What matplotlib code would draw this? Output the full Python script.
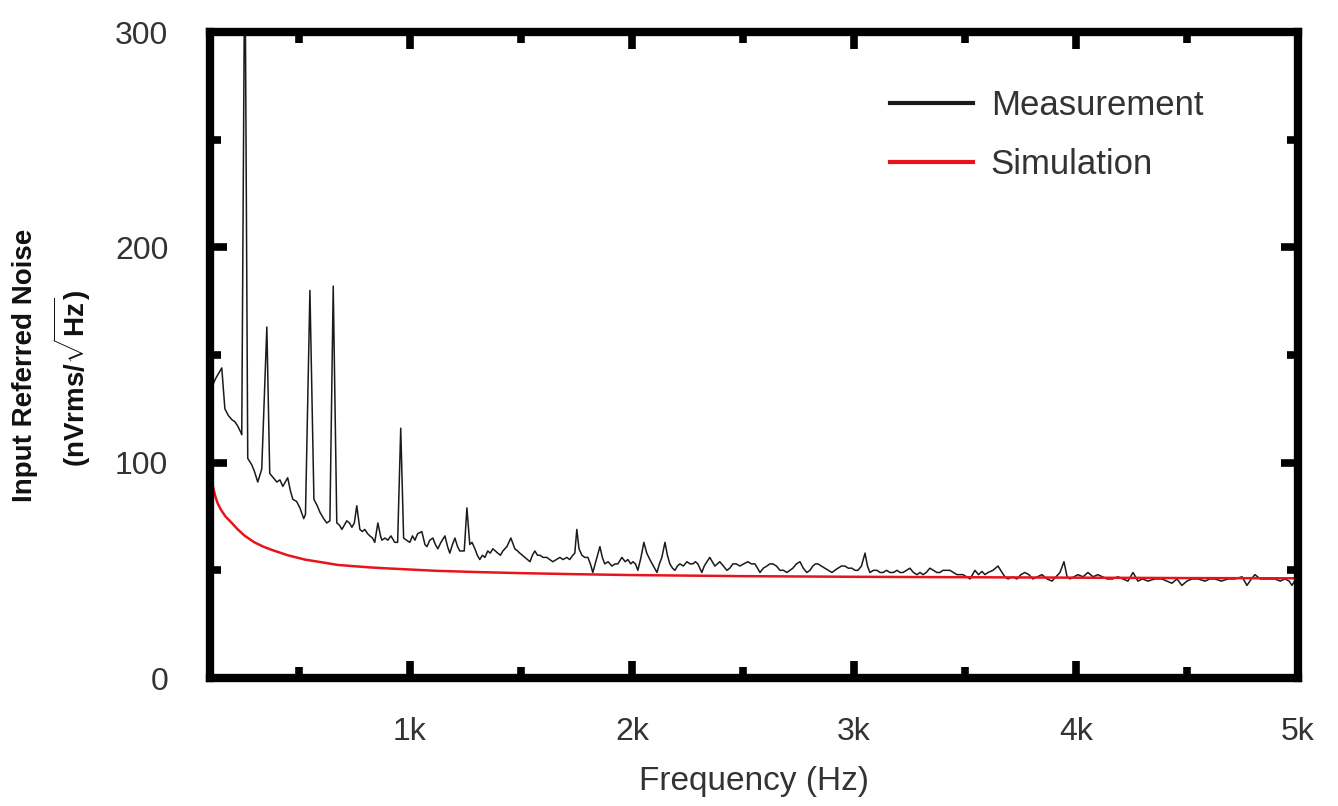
import matplotlib
matplotlib.use('Agg')
import matplotlib.pyplot as plt
from matplotlib.ticker import MultipleLocator

plt.rcParams['font.family'] = ['Liberation Sans', 'DejaVu Sans']
plt.rcParams['mathtext.fontset'] = 'custom'
plt.rcParams['mathtext.rm'] = 'Liberation Sans'
plt.rcParams['mathtext.bf'] = 'Liberation Sans:bold'

# measured input referred noise (Hz, nVrms/sqrt(Hz))
meas_f = [108, 125, 153, 167, 182, 198, 212, 225, 239, 243, 257, 270, 288, 300, 315, 333, 356, 369,
          385, 401, 415, 428, 450, 462, 473, 490, 505, 522, 530, 550, 568, 583, 595, 612, 626, 640,
          655, 671, 683, 694, 705, 716, 728, 739, 750, 761, 775, 786, 797, 810, 820, 832, 842, 856,
          868, 874, 888, 901, 915, 932, 945, 959, 972, 985, 1000, 1012, 1023, 1035, 1054, 1068, 1077,
          1090, 1104, 1115, 1126, 1140, 1158, 1170, 1180, 1192, 1203, 1215, 1225, 1239, 1245, 1257,
          1270, 1280, 1293, 1304, 1315, 1327, 1338, 1351, 1362, 1374, 1385, 1396, 1408, 1419, 1437,
          1455, 1473, 1485, 1495, 1507, 1518, 1530, 1541, 1552, 1563, 1575, 1586, 1600, 1617, 1630,
          1644, 1660, 1676, 1690, 1707, 1720, 1734, 1743, 1752, 1762, 1775, 1788, 1802, 1813, 1824,
          1840, 1856, 1867, 1878, 1893, 1910, 1925, 1937, 1955, 1970, 1982, 1995, 2005, 2016, 2027,
          2041, 2054, 2067, 2081, 2097, 2113, 2124, 2135, 2149, 2160, 2171, 2183, 2194, 2205, 2216,
          2232, 2248, 2262, 2275, 2286, 2297, 2306, 2315, 2326, 2338, 2351, 2362, 2374, 2385, 2396,
          2412, 2428, 2441, 2455, 2470, 2486, 2504, 2522, 2538, 2554, 2566, 2577, 2592, 2608, 2622,
          2635, 2651, 2667, 2683, 2698, 2712, 2725, 2741, 2757, 2772, 2788, 2802, 2815, 2827, 2838,
          2853, 2869, 2885, 2901, 2914, 2928, 2944, 2959, 2975, 2991, 3005, 3018, 3034, 3050, 3061,
          3072, 3088, 3104, 3118, 3131, 3147, 3162, 3178, 3194, 3208, 3221, 3237, 3252, 3268, 3284,
          3298, 3311, 3326, 3342, 3358, 3374, 3387, 3401, 3416, 3432, 3448, 3464, 3478, 3491, 3507,
          3523, 3545, 3561, 3577, 3590, 3604, 3626, 3649, 3667, 3680, 3694, 3714, 3734, 3752, 3770,
          3788, 3806, 3826, 3847, 3870, 3892, 3910, 3928, 3946, 3960, 3973, 3991, 4009, 4032, 4054,
          4077, 4099, 4120, 4140, 4165, 4189, 4211, 4234, 4257, 4279, 4300, 4324, 4355, 4387, 4410,
          4432, 4455, 4477, 4500, 4523, 4550, 4581, 4603, 4626, 4655, 4685, 4715, 4748, 4770, 4790,
          4806, 4830, 4851, 4875, 4896, 4920, 4941, 4960, 4973, 4990, 5000]
meas_v = [135, 139, 144, 125, 122, 120, 119, 117, 114, 113, 350, 102, 99, 96, 91, 97, 163, 95,
          93, 91, 92, 89, 93, 87, 83, 82, 79, 74, 76, 180, 83, 80, 77, 74, 72, 73,
          182, 72, 71, 69, 71, 73, 72, 70, 72, 80, 69, 68, 69, 67, 66, 65, 63, 72,
          66, 64, 65, 64, 66, 63, 63, 116, 65, 64, 63, 66, 64, 67, 68, 62, 61,
          64, 65, 62, 60, 63, 66, 61, 58, 62, 65, 61, 59, 59, 59, 79,
          62, 63, 60, 57, 55, 57, 56, 59, 58, 60, 59, 58, 57, 59, 61,
          65, 60, 59, 58, 57, 56, 55, 54, 57, 59, 57, 57, 56, 56, 55,
          54, 55, 56, 55, 56, 55, 57, 58, 69, 60, 57, 56, 56, 53, 49,
          55, 61, 56, 53, 54, 52, 53, 53, 56, 54, 55, 53, 54, 53, 50,
          56, 63, 58, 55, 52, 49, 53, 56, 63, 57, 53, 51, 50, 52, 53,
          52, 54, 53, 53, 54, 53, 51, 49, 52, 54, 56, 54, 52, 53, 54,
          52, 50, 51, 53, 53, 52, 53, 54, 53, 53, 51, 49, 51, 52, 53,
          53, 52, 50, 50, 49, 50, 51, 53, 54, 51, 49, 50, 52, 53, 53,
          52, 51, 50, 49, 50, 51, 52, 52, 51, 51, 50, 50, 52, 58, 52,
          49, 50, 50, 49, 49, 50, 49, 49, 50, 49, 49, 50, 51, 49, 48,
          49, 48, 49, 51, 50, 49, 49, 50, 50, 50, 49, 48, 48, 48, 47,
          46, 50, 48, 49.5, 48, 49, 50, 52, 49, 47, 46, 47, 46, 48, 49,
          48, 46, 47, 48, 46, 45, 47, 49, 54, 47, 46, 47, 48, 47, 49,
          47, 48, 47, 46, 46, 47, 46, 45, 49, 45, 46, 45, 46, 46, 45,
          44, 46, 43, 45, 46, 46, 45, 46, 46, 45, 46, 46, 47, 43, 46,
          48, 46, 46, 46, 46, 45, 46, 45, 43, 46, 45]

# simulated noise
sim_f = [108, 115, 125, 135, 150, 170, 198, 225, 257, 300, 340, 378, 450, 527, 600, 676, 750,
         829, 900, 977, 1113, 1300, 1500, 1750, 2000, 2500, 3000, 3500, 4000, 4500, 5000]
sim_v = [92, 88, 84, 81, 78, 75, 72, 69, 66, 63, 61, 59.5, 57, 55, 53.8, 52.5, 51.9,
         51.3, 50.9, 50.5, 49.8, 49.2, 48.7, 48.2, 47.8, 47.3, 47.0, 46.8, 46.6, 46.4, 46.3]

xticks = [1000, 2000, 3000, 4000, 5000]
xtick_labels = ['1k', '2k', '3k', '4k', '5k']
yticks = [0, 100, 200, 300]

fig = plt.figure(figsize=(13.38, 8.06), dpi=100)
ax = fig.add_axes([210 / 1338, 1 - 678 / 806, 1088 / 1338, 646 / 806])

ax.plot(meas_f, meas_v, color='#1a1a1a', linewidth=1.1, label='Measurement')
ax.plot(sim_f, sim_v, color='#e8141c', linewidth=1.8, label='Simulation')

ax.set_xlim(100, 5000)
ax.set_ylim(0, 300)
ax.set_xticks(xticks)
ax.set_xticklabels(xtick_labels)
ax.set_yticks(yticks)
ax.xaxis.set_minor_locator(MultipleLocator(500))
ax.yaxis.set_minor_locator(MultipleLocator(50))

for s in ax.spines.values():
    s.set_linewidth(6)
    s.set_color('black')

ax.tick_params(which='both', direction='in', top=True, right=True, width=5.5, color='black')
ax.tick_params(which='major', length=12)
ax.tick_params(which='minor', length=8)
ax.tick_params(axis='both', which='major', labelsize=23, labelcolor='#333333')
ax.tick_params(axis='x', pad=28)
ax.tick_params(axis='y', pad=30)

ax.set_xlabel('Frequency (Hz)', fontsize=24, color='#333333', labelpad=14)

fig.text(25 / 1338, 1 - 365 / 806, 'Input Referred Noise', rotation=90, fontsize=20,
         fontweight='bold', ha='center', va='center', color='#111111')
fig.text(72 / 1338, 1 - 378 / 806, r'(nVrms/$\sqrt{\mathbf{Hz}}$)', rotation=90, fontsize=20,
         fontweight='bold', ha='center', va='center', color='#111111')

leg = ax.legend(loc='upper left', bbox_to_anchor=(0.625, 0.912), frameon=False, fontsize=25,
                handlelength=2.4, handletextpad=0.5, labelspacing=0.75, borderpad=0,
                borderaxespad=0)
for t in leg.get_texts():
    t.set_color('#333333')
for h in leg.get_lines():
    h.set_linewidth(3)

fig.savefig('out.png', dpi=100)
